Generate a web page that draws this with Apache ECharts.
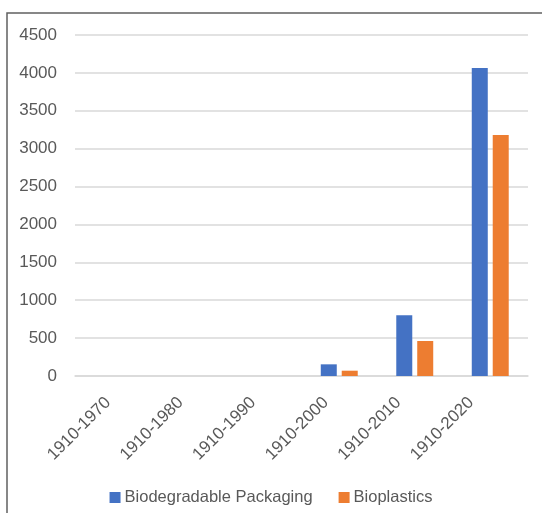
<!DOCTYPE html>
<html>
<head>
<meta charset="utf-8">
<script src="https://cdn.jsdelivr.net/npm/echarts@6/dist/echarts.min.js"></script>
<style>
  html, body { margin: 0; padding: 0; background: #ffffff; }
  #chart { width: 542px; height: 513px; }
</style>
</head>
<body>
<div id="chart"></div>
<script>
// Cumulative counts per period
const periods = ['1910-1970', '1910-1980', '1910-1990', '1910-2000', '1910-2010', '1910-2020'];
const biodegradablePackaging = [0, 0, 0, 154, 801, 4063];
const bioplastics = [0, 0, 0, 70, 462, 3179];
const yTicks = { min: 0, max: 4500, interval: 500 };

const textColor = '#595959';
const font = '"Liberation Sans", Arial, sans-serif';

const chart = echarts.init(document.getElementById('chart'), null, { renderer: 'canvas' });
chart.setOption({
  animation: false,
  backgroundColor: '#ffffff',
  graphic: [{
    type: 'rect',
    shape: { x: 7, y: 13, width: 560, height: 540 },
    style: { fill: 'none', stroke: '#606060', lineWidth: 1.5 },
    silent: true,
    z: -1
  }],
  grid: [
    { left: 75, right: 14, top: 35, bottom: 137 },
    // label band for the rotated period names
    { left: 71.7, right: 34.7, top: 35, bottom: 137 }
  ],
  legend: {
    bottom: 2,
    left: 'center',
    itemWidth: 11,
    itemHeight: 11,
    itemGap: 26,
    icon: 'rect',
    textStyle: { color: textColor, fontSize: 16.5, fontFamily: font, padding: [0, 0, 0, -1] }
  },
  xAxis: [
    {
      type: 'category',
      gridIndex: 0,
      data: periods,
      axisLine: { show: true, lineStyle: { color: '#d9d9d9', width: 1.5 } },
      axisTick: { show: false },
      axisLabel: { show: false }
    },
    {
      type: 'category',
      gridIndex: 1,
      data: periods,
      axisLine: { show: false },
      axisTick: { show: false },
      axisLabel: {
        rotate: 45,
        interval: 0,
        margin: 24,
        color: textColor,
        fontSize: 17,
        fontFamily: font
      }
    }
  ],
  yAxis: [
    {
      type: 'value',
      gridIndex: 0,
      min: yTicks.min,
      max: yTicks.max,
      interval: yTicks.interval,
      axisLine: { show: false },
      axisTick: { show: false },
      splitLine: { lineStyle: { color: '#d9d9d9', width: 1.5 } },
      axisLabel: {
        margin: 18,
        color: textColor,
        fontSize: 17,
        fontFamily: font,
        formatter: v => String(v)
      }
    },
    {
      type: 'value',
      gridIndex: 1,
      min: yTicks.min,
      max: yTicks.max,
      interval: yTicks.interval,
      show: false
    }
  ],
  series: [
    {
      name: 'Biodegradable Packaging',
      type: 'bar',
      xAxisIndex: 0,
      yAxisIndex: 0,
      data: biodegradablePackaging,
      barWidth: 16,
      barGap: '31%',
      itemStyle: { color: '#4472C4' }
    },
    {
      name: 'Bioplastics',
      type: 'bar',
      xAxisIndex: 0,
      yAxisIndex: 0,
      data: bioplastics,
      barWidth: 16,
      itemStyle: { color: '#ED7D31' }
    }
  ]
});
</script>
</body>
</html>
